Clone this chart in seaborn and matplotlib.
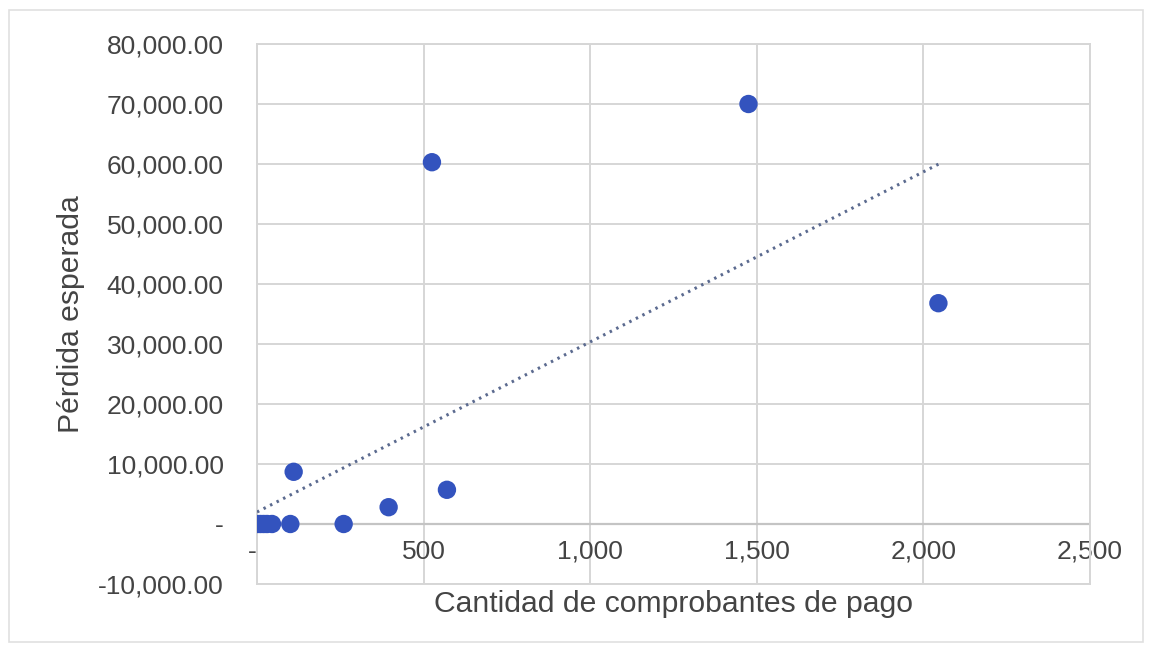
import matplotlib
matplotlib.use("Agg")
import matplotlib.pyplot as plt
import matplotlib.ticker as mticker
import numpy as np
import pandas as pd
import seaborn as sns

# Cantidad de comprobantes de pago vs pérdida esperada
comprobantes = [0, 10, 20, 30, 45, 100, 110, 260, 395, 525, 570, 1475, 2045]
perdida = [0, 0, 0, 0, 0, 0, 8700, 0, 2800, 60300, 5700, 70000, 36800]

x_ticks = [0, 500, 1000, 1500, 2000, 2500]
y_ticks = [-10000, 0, 10000, 20000, 30000, 40000, 50000, 60000, 70000, 80000]

df = pd.DataFrame({"comprobantes": comprobantes, "perdida": perdida})

sns.set_theme(style="white")
plt.rcParams["font.family"] = ["Liberation Sans", "DejaVu Sans"]

fig = plt.figure(figsize=(11.52, 6.52), dpi=100)
ax = fig.add_axes([0.2231, 0.1043, 0.7231, 0.8282])

grid_c = "#D6D6D6"
txt_c = "#444444"
ax.set_xlim(0, 2500)
ax.set_ylim(-10000, 80000)
ax.set_xticks(x_ticks)
ax.set_yticks(y_ticks)
ax.grid(True, color=grid_c, linewidth=1.4)
ax.set_axisbelow(True)
for side, sp in ax.spines.items():
    sp.set_color(grid_c)
    sp.set_linewidth(1.4)
ax.axhline(0, color="#C4C4C4", linewidth=1.6, zorder=1)

ax.tick_params(axis="both", length=0, labelsize=19, colors=txt_c)
ax.tick_params(axis="y", pad=24)
# x tick labels sit just under the zero line
ax.tick_params(axis="x", pad=-32)


def fmt_y(v, pos):
    return "-" if v == 0 else f"{v:,.2f}"


def fmt_x(v, pos):
    return "-" if v == 0 else f"{v:,.0f}"


ax.yaxis.set_major_formatter(mticker.FuncFormatter(fmt_y))
ax.xaxis.set_major_formatter(mticker.FuncFormatter(fmt_x))
for lbl in ax.get_xticklabels():
    if lbl.get_text() == "-":
        lbl.set_horizontalalignment("right")

sns.regplot(data=df, x="comprobantes", y="perdida", ax=ax, ci=None,
            scatter_kws=dict(s=175, color="#3353BE", edgecolor="none", alpha=1, zorder=4),
            line_kws=dict(color="#5B6A8F", linestyle=(0, (0.8, 1.6)), linewidth=2.2, zorder=3))

ax.set_xlim(0, 2500)
ax.set_ylim(-10000, 80000)
ax.set_xlabel("Cantidad de comprobantes de pago", fontsize=21.7, color=txt_c, labelpad=4)
ax.set_ylabel("Pérdida esperada", fontsize=21.7, color=txt_c, labelpad=9)

# light frame around the chart area
fig.patches.append(plt.Rectangle((0.008, 0.015), 0.984, 0.97, transform=fig.transFigure,
                                 fill=False, edgecolor="#E0E0E0", linewidth=1.2))

fig.savefig("out.png", dpi=100)
